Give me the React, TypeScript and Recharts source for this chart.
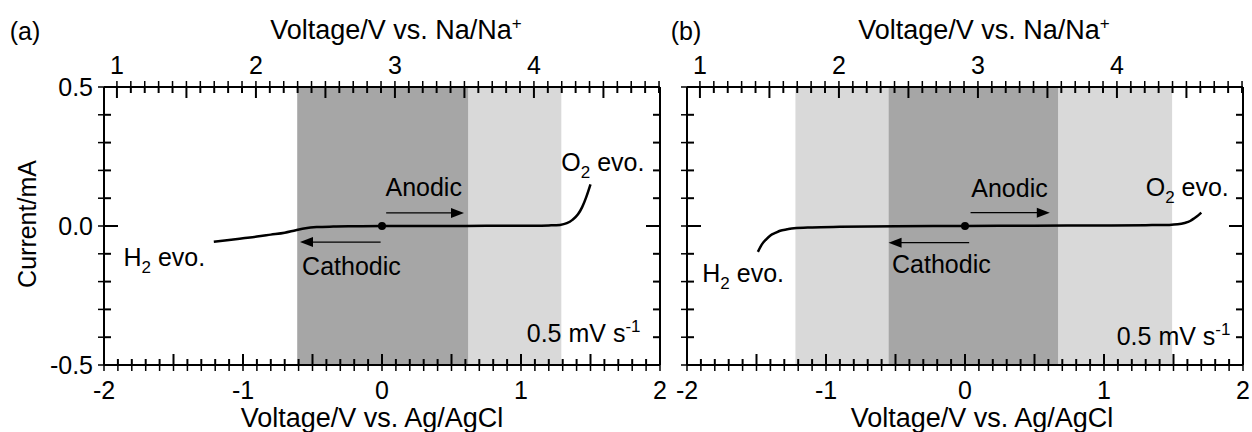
import React from 'react'
import {
  LineChart,
  Line,
  XAxis,
  YAxis,
  ReferenceArea,
  ReferenceDot,
  ReferenceLine,
} from 'recharts'

const FONT = '"Liberation Sans", Arial, sans-serif'
const FS = 25
const TITLE_FS = 27
const SMALL = 17
const TICK = 6
// Ag/AgCl -> Na/Na+ shift (V)
const NA_OFFSET = 2.907

// plot box is 556 x 278 px for 4 V x 1 mA
const PX_V = 556 / 4
const PX_MA = 278

// tick values
const X_TICKS = Array.from({ length: 41 }, (_, k) => -2 + k * 0.1)
const NA_TICKS = Array.from({ length: 40 }, (_, k) => 1 + k * 0.1)
const Y_TICKS = Array.from({ length: 11 }, (_, k) => -0.5 + k * 0.1)

// (a) LSV, voltage vs Ag/AgCl (V) and current (mA)
const A_VOLTAGE = [-1.21, -1.1, -1.0, -0.9, -0.8, -0.7, -0.62, -0.55, -0.47, -0.35, -0.2, 0, 0.3, 0.6, 0.9, 1.1, 1.2, 1.28, 1.33, 1.37, 1.41, 1.44, 1.47, 1.5]
const A_CURRENT = [-0.057, -0.05, -0.044, -0.038, -0.031, -0.024, -0.015, -0.008, -0.004, -0.002, -0.001, 0, 0, 0, 0.001, 0.001, 0.002, 0.004, 0.01, 0.022, 0.042, 0.068, 0.105, 0.15]

// (b)
const B_VOLTAGE = [-1.49, -1.46, -1.43, -1.4, -1.36, -1.33, -1.28, -1.23, -1.1, -0.9, -0.5, 0, 0.5, 1.0, 1.3, 1.47, 1.53, 1.58, 1.62, 1.65, 1.68, 1.7]
const B_CURRENT = [-0.093, -0.065, -0.048, -0.034, -0.024, -0.017, -0.012, -0.008, -0.005, -0.003, -0.001, 0, 0.001, 0.002, 0.003, 0.004, 0.006, 0.011, 0.018, 0.028, 0.039, 0.048]

// stability windows (V vs Ag/AgCl)
const A_DARK = [[-0.61, 0.62]]
const A_LIGHT = [[0.62, 1.29]]
const B_DARK = [[-0.55, 0.67]]
const B_LIGHT = [[-1.22, -0.55], [0.67, 1.49]]

type Part = { t: string; sub?: boolean; sup?: boolean }
type Note = { x: number; y: number; anchor: 'start' | 'middle' | 'end'; parts: Part[] }

const A_NOTES: Note[] = [
  { x: 1.29, y: 0.23, anchor: 'start', parts: [{ t: 'O' }, { t: '2', sub: true }, { t: ' evo.' }] },
  { x: 0.3, y: 0.14, anchor: 'middle', parts: [{ t: 'Anodic' }] },
  { x: -0.22, y: -0.144, anchor: 'middle', parts: [{ t: 'Cathodic' }] },
  { x: -1.86, y: -0.11, anchor: 'start', parts: [{ t: 'H' }, { t: '2', sub: true }, { t: ' evo.' }] },
  { x: 1.86, y: -0.385, anchor: 'end', parts: [{ t: '0.5 mV s' }, { t: '-1', sup: true }] },
]
const B_NOTES: Note[] = [
  { x: 1.3, y: 0.14, anchor: 'start', parts: [{ t: 'O' }, { t: '2', sub: true }, { t: ' evo.' }] },
  { x: 0.32, y: 0.137, anchor: 'middle', parts: [{ t: 'Anodic' }] },
  { x: -0.17, y: -0.137, anchor: 'middle', parts: [{ t: 'Cathodic' }] },
  { x: -1.89, y: -0.17, anchor: 'start', parts: [{ t: 'H' }, { t: '2', sub: true }, { t: ' evo.' }] },
  { x: 1.91, y: -0.395, anchor: 'end', parts: [{ t: '0.5 mV s' }, { t: '-1', sup: true }] },
]

// scan arrows: [x from, x to, y]
const A_ARROWS = [[0.03, 0.59, 0.047], [-0.01, -0.59, -0.058]]
const B_ARROWS = [[0.04, 0.61, 0.048], [0.03, -0.55, -0.06]]

const near = (v: number, step: number) => Math.abs(v / step - Math.round(v / step)) < 1e-6

function RichText({ x, y, anchor, parts }: { x: number; y: number; anchor: string; parts: Part[] }) {
  let shift = 0
  return (
    <text x={x} y={y} textAnchor={anchor} fontSize={FS} fontFamily={FONT} fill="#000">
      {parts.map((p, k) => {
        const target = p.sub ? 7 : p.sup ? -10 : 0
        const dy = target - shift
        shift = target
        return (
          <tspan key={k} dy={dy} fontSize={p.sub || p.sup ? SMALL : FS}>
            {p.t}
          </tspan>
        )
      })}
    </text>
  )
}

// label positions are given relative to the end of the built-in tick line
function BottomLabel({ x, y, payload }: any) {
  const v = payload.value
  if (!near(v, 1)) return <g />
  return (
    <text x={x} y={y - TICK + 34} textAnchor="middle" fontSize={FS} fontFamily={FONT} fill="#000">
      {String(Math.round(v))}
    </text>
  )
}

function TopLabel({ x, y, payload }: any) {
  const v = payload.value
  if (!near(v, 1)) return <g />
  return (
    <text x={x} y={y + TICK - 13} textAnchor="middle" fontSize={FS} fontFamily={FONT} fill="#000">
      {String(Math.round(v))}
    </text>
  )
}

function LeftLabel({ x, y, payload, labels }: any) {
  const v = payload.value
  if (!labels || !near(v, 0.5)) return <g />
  return (
    <text x={x + TICK - 11} y={y + 9} textAnchor="end" fontSize={FS} fontFamily={FONT} fill="#000">
      {Math.abs(v) < 1e-9 ? '0.0' : v.toFixed(1)}
    </text>
  )
}

function Arrow(props: any) {
  const { x1, y1, x2, y2 } = props
  const dir = x2 > x1 ? 1 : -1
  return (
    <g>
      <line x1={x1} y1={y1} x2={x2 - dir * 10} y2={y2} stroke="#000" strokeWidth={1.3} />
      <polygon points={`${x2},${y2} ${x2 - dir * 13},${y2 - 5} ${x2 - dir * 13},${y2 + 5}`} fill="#000" />
    </g>
  )
}

// inward tick marks as thin reference boxes in data units
type Box = { x1: number; x2: number; y1: number; y2: number }

function tickBoxes(): Box[] {
  const hw = 1 / PX_V
  const hh = 1 / PX_MA
  const list: Box[] = []
  X_TICKS.forEach((v) => {
    const len = (near(v, 0.5) ? 11 : 6) / PX_MA
    list.push({ x1: v - hw, x2: v + hw, y1: -0.5, y2: -0.5 + len })
  })
  NA_TICKS.forEach((n) => {
    const v = n - NA_OFFSET
    const len = (near(n, 0.5) ? 11 : 6) / PX_MA
    list.push({ x1: v - hw, x2: v + hw, y1: 0.5 - len, y2: 0.5 })
  })
  Y_TICKS.forEach((v) => {
    const len = (near(v, 0.5) ? 14 : 7) / PX_V
    list.push({ x1: -2, x2: -2 + len, y1: v - hh, y2: v + hh })
    list.push({ x1: 2 - len, x2: 2, y1: v - hh, y2: v + hh })
  })
  return list
}

function Panel(props: {
  left: number
  width: number
  yWidth: number
  rWidth: number
  labels: boolean
  volt: number[]
  curr: number[]
  dark: number[][]
  light: number[][]
  notes: Note[]
  arrows: number[][]
}) {
  const { left, width, yWidth, rWidth, labels, volt, curr, dark, light, notes, arrows } = props
  const data = volt.map((v, k) => ({ v, i: curr[k] }))
  const boxes = tickBoxes()
  const frame = { stroke: '#000', strokeWidth: 2 }
  const tl = { stroke: '#000', strokeWidth: 1.5 }
  return (
    <div style={{ position: 'absolute', left, top: 0 }}>
      <LineChart width={width} height={432} data={data} margin={{ top: 0, right: 0, bottom: 0, left: 0 }}>
        {light.map(([a, b], k) => (
          <ReferenceArea key={'l' + k} x1={a} x2={b} fill="#d9d9d9" fillOpacity={1} stroke="none" ifOverflow="hidden" />
        ))}
        {dark.map(([a, b], k) => (
          <ReferenceArea key={'d' + k} x1={a} x2={b} fill="#a6a6a6" fillOpacity={1} stroke="none" ifOverflow="hidden" />
        ))}
        {boxes.map((b, k) => (
          <ReferenceArea
            key={'t' + k}
            x1={b.x1}
            x2={b.x2}
            y1={b.y1}
            y2={b.y2}
            fill="#000"
            fillOpacity={1}
            stroke="none"
            ifOverflow="hidden"
          />
        ))}
        <XAxis
          dataKey="v"
          type="number"
          domain={[-2, 2]}
          allowDataOverflow
          ticks={X_TICKS}
          interval={0}
          height={67}
          stroke="#000"
          tickSize={TICK}
          tickMargin={0}
          tickLine={tl}
          axisLine={frame}
          tick={BottomLabel}
        />
        <XAxis
          xAxisId="na"
          orientation="top"
          dataKey={(d: any) => d.v + NA_OFFSET}
          type="number"
          domain={[NA_OFFSET - 2, NA_OFFSET + 2]}
          allowDataOverflow
          ticks={NA_TICKS}
          interval={0}
          height={87}
          stroke="#000"
          tickSize={TICK}
          tickMargin={0}
          tickLine={tl}
          axisLine={frame}
          tick={TopLabel}
        />
        <YAxis
          type="number"
          domain={[-0.5, 0.5]}
          allowDataOverflow
          ticks={Y_TICKS}
          interval={0}
          width={yWidth}
          stroke="#000"
          tickSize={TICK}
          tickMargin={0}
          tickLine={tl}
          axisLine={frame}
          tick={(p: any) => <LeftLabel {...p} labels={labels} />}
        />
        <YAxis
          yAxisId="r"
          orientation="right"
          type="number"
          domain={[-0.5, 0.5]}
          allowDataOverflow
          ticks={Y_TICKS}
          interval={0}
          width={rWidth}
          stroke="#000"
          tickSize={TICK}
          tick={false}
          tickLine={tl}
          axisLine={frame}
        />
        <Line
          type="monotone"
          dataKey="i"
          stroke="#000"
          strokeWidth={2.5}
          dot={false}
          isAnimationActive={false}
        />
        {arrows.map(([a, b, y], k) => (
          <ReferenceLine
            key={'a' + k}
            segment={[{ x: a, y }, { x: b, y }]}
            stroke="#000"
            shape={Arrow}
          />
        ))}
        <ReferenceDot x={0} y={0} r={4} fill="#000" stroke="none" />
        {notes.map((n, k) => (
          <ReferenceDot
            key={'n' + k}
            x={n.x}
            y={n.y}
            r={0}
            shape={(p: any) => <RichText x={p.cx} y={p.cy + 9} anchor={n.anchor} parts={n.parts} />}
          />
        ))}
      </LineChart>
    </div>
  )
}

function Txt({ x, y, children, rotate, size }: { x: number; y: number; children: React.ReactNode; rotate?: boolean; size?: number }) {
  return (
    <div
      style={{
        position: 'absolute',
        left: x,
        top: y,
        transform: `translate(-50%, -50%)${rotate ? ' rotate(-90deg)' : ''}`,
        whiteSpace: 'nowrap',
        fontFamily: FONT,
        fontSize: size ?? FS,
        lineHeight: 1,
        color: '#000',
      }}
    >
      {children}
    </div>
  )
}

const sup = { fontSize: SMALL, verticalAlign: 'super', lineHeight: 0 } as const

export default function App() {
  return (
    <div style={{ position: 'absolute', left: 0, top: 0, width: 1252, height: 432, background: '#fff', overflow: 'hidden' }}>
      <Panel
        left={0}
        width={672}
        yWidth={104}
        rWidth={12}
        labels
        volt={A_VOLTAGE}
        curr={A_CURRENT}
        dark={A_DARK}
        light={A_LIGHT}
        notes={A_NOTES}
        arrows={A_ARROWS}
      />
      <Panel
        left={672}
        width={580}
        yWidth={15}
        rWidth={9}
        labels={false}
        volt={B_VOLTAGE}
        curr={B_CURRENT}
        dark={B_DARK}
        light={B_LIGHT}
        notes={B_NOTES}
        arrows={B_ARROWS}
      />
      <Txt x={25} y={31}>(a)</Txt>
      <Txt x={686} y={31}>(b)</Txt>
      <Txt x={396} y={30} size={TITLE_FS}>
        Voltage/V vs. Na/Na<span style={sup}>+</span>
      </Txt>
      <Txt x={984} y={30} size={TITLE_FS}>
        Voltage/V vs. Na/Na<span style={sup}>+</span>
      </Txt>
      <Txt x={372} y={418} size={TITLE_FS}>Voltage/V vs. Ag/AgCl</Txt>
      <Txt x={982} y={418} size={TITLE_FS}>Voltage/V vs. Ag/AgCl</Txt>
      <Txt x={27} y={224} rotate>
        Current/mA
      </Txt>
    </div>
  )
}
